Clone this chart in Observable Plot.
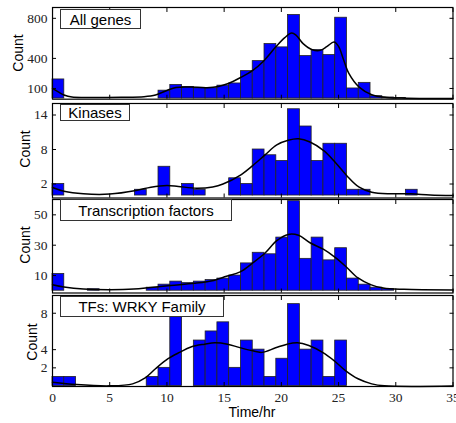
<!DOCTYPE html>
<html><head><meta charset="utf-8">
<script src="https://cdn.jsdelivr.net/npm/d3@7"></script>
<script src="https://cdn.jsdelivr.net/npm/@observablehq/plot@0.6"></script>
<style>
body{margin:0;background:#fff;}
#chart{position:relative;width:456px;height:423px;overflow:hidden;}
#chart svg{position:absolute;left:0;overflow:visible;background:none;}
.box{position:absolute;box-sizing:border-box;border:1px solid #333;background:#fff;font-family:"Liberation Sans",Arial,sans-serif;font-size:15px;color:#000;display:flex;align-items:center;justify-content:center;white-space:nowrap;}
.ylab{position:absolute;font-family:"Liberation Sans",Arial,sans-serif;font-size:14px;color:#000;transform:translate(-50%,-50%) rotate(-90deg);white-space:nowrap;}
.xlab{position:absolute;font-family:"Liberation Sans",Arial,sans-serif;font-size:14px;color:#000;transform:translate(-50%,-50%);white-space:nowrap;}
</style></head><body><div id="chart"></div>
<script>
// ---- data ----
const panelNames = ["All genes", "Kinases", "Transcription factors", "TFs: WRKY Family"];
const binWidth = 35 / 34; // histogram bins of equal width starting at 0 hr
const countsAll = [190,0,0,0,0,0,0,0,0,78,135,115,102,102,128,150,273,373,543,510,833,423,483,433,806,100,156,23,10,5,0,0,0,0];
const countsKinases = [2,0,0,0,0,0,0,1,0,5,0,2,1,0,0,3,2,8,7,6,15,12,6,9,9,1,1,0,0,0,1,0,0,0];
const countsTF = [11,0,0,1,0,0,0,0,2,4,6,5,6,7,8,10,18,25,24,35,59,21,35,20,28,8,4,2,1,0,0,0,0,0];
const countsWRKY = [1,1,0,0,0,0,0,0,1,2,8,0,5,6,7,2,5,4,1,3,9,4,5,1,5,0,0,0,0,0,0,0,0,0];
// smooth density curves: [time, count]
const curveAll = [[0,100],[0.5,65],[1,35],[1.7,14],[3,10],[6,12],[8,18],[9,35],[10,80],[10.8,110],[12,115],[13.5,108],[14.5,120],[15.3,147],[16.4,207],[17.5,280],[18.5,380],[19.5,513],[20.3,607],[20.9,653],[21.3,630],[21.9,547],[22.7,487],[23.4,480],[24.0,520],[24.6,563],[25.0,520],[25.4,400],[25.9,250],[26.8,113],[27.9,37],[29.2,10],[31,3],[35,0]];
const curveKinases = [[0,1.4],[1,0.75],[2.7,0.3],[5,0.25],[7.3,0.87],[8.6,1.45],[10,1.74],[11,1.57],[12.6,1.28],[14,1.5],[14.9,2.0],[16.5,3.65],[17.5,5.2],[18.6,7.1],[19.6,8.8],[20.6,9.6],[21.5,9.85],[22.5,9.3],[23.7,7.8],[24.7,5.8],[25.7,3.5],[26.8,1.45],[27.9,0.57],[29.6,0.3],[31.3,0.3],[33,0.1],[35,0]];
const curveTF = [[0,4],[1,2.5],[2.7,1.1],[5,0.7],[7.1,1.1],[8.6,2.2],[10.3,3.5],[12.4,4.9],[14.1,6.8],[15.2,9.5],[16.4,12.4],[17.5,18.3],[18.6,25],[19.6,33],[20.6,37.1],[21.5,36.5],[22.5,31.6],[23.7,27.2],[24.7,22],[25.7,15.5],[26.7,8.4],[27.8,4],[28.9,1.8],[30.7,0.9],[35,0.5]];
const curveWRKY = [[0,0.42],[2.1,0.16],[5,0.02],[7,0.24],[8.1,0.9],[9,1.9],[10.1,3.0],[11.1,3.7],[12.1,4.3],[13.3,4.6],[14.2,4.75],[15.3,4.6],[16.3,4.25],[17.4,3.9],[18.3,3.7],[19.5,4.2],[20.5,4.6],[21.4,4.75],[22.4,4.45],[23.6,3.7],[24.6,2.8],[25.6,1.7],[26.7,0.8],[27.9,0.24],[29,0.02],[35,0]];
const yTicksAll = [100, 400, 800];
const yTicksKinases = [2, 8, 14];
const yTicksTF = [10, 30, 50];
const yTicksWRKY = [2, 4, 8];
const xTicks = [0, 5, 10, 15, 20, 25, 30, 35];
const xLabel = "Time/hr";
const yLabel = "Count";

// ---- layout ----
const layout = [
  {top: 7,   bottom: 98.7,  ydom: [-7, 908],     box: [60, 9, 81, 20],    lab: [18.3, 53]},
  {top: 103, bottom: 197.5, ydom: [-0.43, 16.0], box: [60, 104, 70, 17],  lab: [25, 149]},
  {top: 199, bottom: 292.5, ydom: [-1.5, 60.1],  box: [60, 199, 172, 22], lab: [25, 245]},
  {top: 295, bottom: 386,   ydom: [-0.05, 9.95], box: [60, 296, 164, 21], lab: [31.7, 341.7]}
];
const series = [
  {counts: countsAll, curve: curveAll, ticks: yTicksAll},
  {counts: countsKinases, curve: curveKinases, ticks: yTicksKinases},
  {counts: countsTF, curve: curveTF, ticks: yTicksTF},
  {counts: countsWRKY, curve: curveWRKY, ticks: yTicksWRKY}
];

const chart = document.getElementById("chart");
const serif = "'Liberation Serif','Times New Roman',serif";

series.forEach((s, i) => {
  const L = layout[i];
  const last = i === series.length - 1;
  const mt = 3, mb = last ? 30 : 3;
  const bins = s.counts.map((c, k) => ({x1: k * binWidth, x2: (k + 1) * binWidth, c})).filter(d => d.c > 0);
  const marks = [
    Plot.rectY(bins, {x1: "x1", x2: "x2", y1: 0, y2: "c", fill: "#0000ff", stroke: "#222", strokeWidth: 0.8}),
    Plot.line(s.curve, {x: d => d[0], y: d => d[1], stroke: "#000", strokeWidth: 1.5, curve: "catmull-rom"}),
    Plot.frame({stroke: "#000", strokeWidth: 1.2}),
    // inward tick marks
    Plot.axisY(s.ticks, {anchor: "left", tickSize: 4, dx: 4, tickFormat: () => "", label: null, stroke: "#000"}),
    Plot.axisY(s.ticks, {anchor: "right", tickSize: 4, dx: -4, tickFormat: () => "", label: null, stroke: "#000"}),
    Plot.axisX(xTicks, {anchor: "bottom", tickSize: 4, dy: -4, tickFormat: () => "", label: null, stroke: "#000"}),
    Plot.axisX(xTicks, {anchor: "top", tickSize: 4, dy: 4, tickFormat: () => "", label: null, stroke: "#000"}),
    // tick labels
    Plot.axisY(s.ticks, {anchor: "left", tickSize: 0, tickPadding: 5, label: null, fontFamily: serif, fontSize: 13.5, fill: "#222"})
  ];
  if (last) marks.push(Plot.axisX(xTicks, {anchor: "bottom", tickSize: 0, tickPadding: 6, label: null, fontFamily: serif, fontSize: 13.5, fill: "#222"}));
  const svg = Plot.plot({
    width: 456,
    height: (L.bottom - L.top) + mt + mb,
    marginLeft: 52, marginRight: 3.5, marginTop: mt, marginBottom: mb,
    x: {domain: [0, 35]},
    y: {domain: L.ydom},
    marks
  });
  svg.style.top = (L.top - mt) + "px";
  chart.appendChild(svg);

  const box = document.createElement("div");
  box.className = "box";
  box.style.left = L.box[0] + "px"; box.style.top = L.box[1] + "px";
  box.style.width = L.box[2] + "px"; box.style.height = L.box[3] + "px";
  box.textContent = panelNames[i];
  chart.appendChild(box);

  const yl = document.createElement("div");
  yl.className = "ylab";
  yl.style.left = L.lab[0] + "px"; yl.style.top = L.lab[1] + "px";
  yl.textContent = yLabel;
  chart.appendChild(yl);
});

const xl = document.createElement("div");
xl.className = "xlab";
xl.style.left = "252px"; xl.style.top = "411.5px";
xl.textContent = xLabel;
chart.appendChild(xl);
</script>
</body></html>
